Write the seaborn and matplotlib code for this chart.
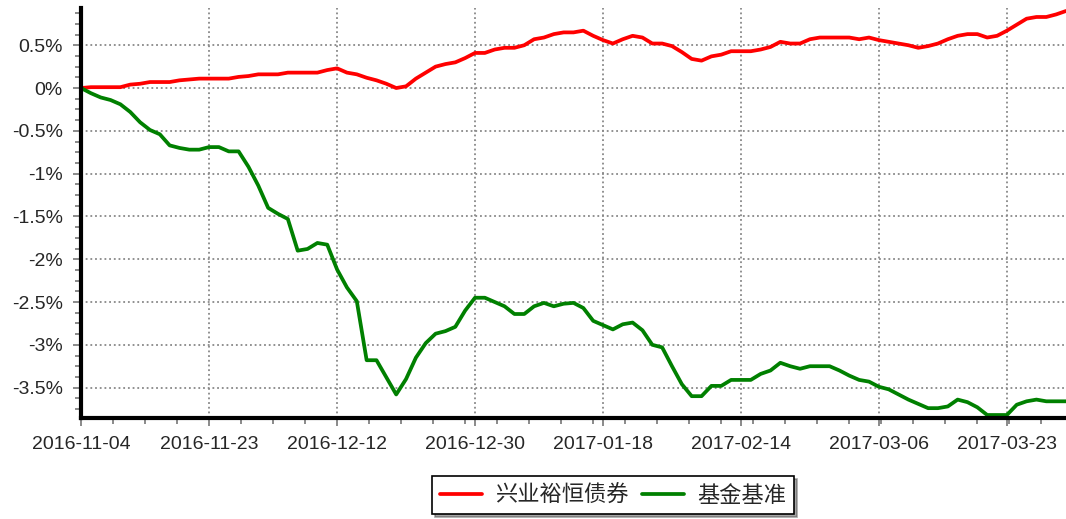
import numpy as np
import pandas as pd
import seaborn as sns
import matplotlib.pyplot as plt
from matplotlib.ticker import FuncFormatter, AutoMinorLocator, FixedLocator

# 累计收益率 (%)，按交易日排列
fund = [0.0, 0.01, 0.01, 0.01, 0.01, 0.04, 0.05, 0.07, 0.07, 0.07,
        0.09, 0.10, 0.11, 0.11, 0.11, 0.11, 0.13, 0.14, 0.16, 0.16,
        0.16, 0.18, 0.18, 0.18, 0.18, 0.21, 0.23, 0.18, 0.16, 0.12,
        0.09, 0.05, 0.0, 0.02, 0.11, 0.18, 0.25, 0.28, 0.30, 0.35,
        0.41, 0.41, 0.45, 0.47, 0.47, 0.50, 0.57, 0.59, 0.63, 0.65,
        0.65, 0.67, 0.61, 0.56, 0.52, 0.57, 0.61, 0.59, 0.52, 0.52,
        0.49, 0.42, 0.34, 0.32, 0.37, 0.39, 0.43, 0.43, 0.43, 0.45,
        0.48, 0.54, 0.52, 0.52, 0.57, 0.59, 0.59, 0.59, 0.59, 0.57,
        0.59, 0.56, 0.54, 0.52, 0.50, 0.47, 0.49, 0.52, 0.57, 0.61,
        0.63, 0.63, 0.59, 0.61, 0.67, 0.74, 0.81, 0.83, 0.83, 0.86,
        0.90]
bench = [0.0, -0.06, -0.11, -0.14, -0.19, -0.28, -0.40, -0.49, -0.54, -0.67,
         -0.70, -0.72, -0.72, -0.69, -0.69, -0.74, -0.74, -0.92, -1.14, -1.40,
         -1.47, -1.53, -1.90, -1.88, -1.81, -1.83, -2.12, -2.33, -2.49, -3.18,
         -3.18, -3.38, -3.58, -3.40, -3.15, -2.98, -2.87, -2.84, -2.79, -2.60,
         -2.45, -2.45, -2.50, -2.55, -2.64, -2.64, -2.55, -2.51, -2.55, -2.52,
         -2.51, -2.57, -2.72, -2.77, -2.82, -2.76, -2.74, -2.83, -3.00, -3.03,
         -3.25, -3.46, -3.60, -3.60, -3.48, -3.48, -3.41, -3.41, -3.41, -3.34,
         -3.30, -3.21, -3.25, -3.28, -3.25, -3.25, -3.25, -3.30, -3.36, -3.41,
         -3.43, -3.49, -3.52, -3.58, -3.64, -3.69, -3.74, -3.74, -3.72, -3.64,
         -3.67, -3.73, -3.82, -3.82, -3.82, -3.70, -3.66, -3.64, -3.66, -3.66,
         -3.66]
names = ["兴业裕恒债券", "基金基准"]
colors = ["#ff0000", "#008000"]
tick_labels = ["2016-11-04", "2016-11-23", "2016-12-12", "2016-12-30",
               "2017-01-18", "2017-02-14", "2017-03-06", "2017-03-23"]
tick_pos = [0, 13, 26, 40, 53, 67, 81, 94]
y_ticks = [0.5, 0, -0.5, -1, -1.5, -2, -2.5, -3, -3.5]

n = len(fund)
df = pd.DataFrame({
    "day": list(range(n)) * 2,
    "ret": fund + bench,
    "name": [names[0]] * n + [names[1]] * n,
})

sns.set_style("white")
plt.rcParams["font.family"] = ["Liberation Sans", "Noto Sans CJK SC", "DejaVu Sans"]

fig = plt.figure(figsize=(10.66, 5.19), dpi=100)
ax = fig.add_axes([81 / 1066, 1 - 418 / 519, 1 - 81 / 1066, 410 / 519])

sns.lineplot(data=df, x="day", y="ret", hue="name", palette=dict(zip(names, colors)),
             linewidth=2.7, ax=ax, legend=False)

ax.set_xlim(0, n - 1)
ax.set_ylim(-3.855, 0.935)
ax.set_xlabel("")
ax.set_ylabel("")

ax.xaxis.set_major_locator(FixedLocator(tick_pos))
ax.set_xticklabels(tick_labels)
ax.xaxis.set_minor_locator(AutoMinorLocator(4))
ax.yaxis.set_major_locator(FixedLocator(y_ticks))
ax.yaxis.set_major_formatter(FuncFormatter(lambda v, p: "%g%%" % v))
ax.yaxis.set_minor_locator(AutoMinorLocator(4))

ax.grid(True, which="major", color="#888888", linestyle=(0, (1, 1.6)), linewidth=1.3)
ax.tick_params(axis="both", which="major", direction="out", length=6, width=1.2,
               color="#777777", labelsize=14, pad=7, bottom=True, left=True)
ax.tick_params(axis="both", which="minor", direction="out", length=4, width=1.2,
               color="#777777", bottom=True, left=True)

for s in ["top", "right"]:
    ax.spines[s].set_visible(False)
for s in ["left", "bottom"]:
    ax.spines[s].set_color("black")
    ax.spines[s].set_linewidth(3)

handles = [plt.Line2D([], [], color=c, linewidth=2.7) for c in colors]
leg = fig.legend(handles, names, loc="center", bbox_to_anchor=(613 / 1066, 1 - 495 / 519),
                 ncol=2, frameon=True, fancybox=False, shadow=True,
                 handlelength=1.9, handletextpad=0.6, columnspacing=0.6,
                 borderpad=0.35, prop={"family": ["Noto Sans CJK SC", "DejaVu Sans"], "size": 16})
leg.get_frame().set_edgecolor("black")
leg.get_frame().set_linewidth(1.2)

fig.savefig("out.png", dpi=100)
